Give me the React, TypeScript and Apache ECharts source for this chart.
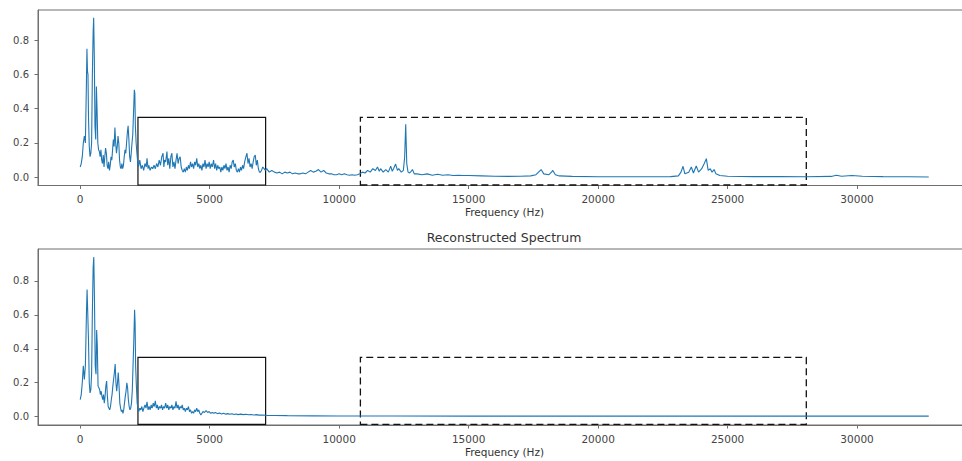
import React, { useEffect, useRef } from "react";
import * as echarts from "echarts";

// Original spectrum: [frequency (Hz), magnitude]
const originalSpectrum: number[][] = [
  [0, 0.06], [40, 0.08], [80, 0.12], [120, 0.2], [160, 0.24], [200, 0.2], [240, 0.55], [260, 0.75], [280, 0.62],
  [300, 0.6], [320, 0.35], [350, 0.18], [380, 0.12], [410, 0.14], [440, 0.2], [470, 0.6], [500, 0.85], [520, 0.93],
  [545, 0.7], [570, 0.3], [600, 0.22], [625, 0.53], [650, 0.4], [680, 0.2], [710, 0.16], [740, 0.15], [770, 0.12],
  [800, 0.16], [830, 0.1], [860, 0.08], [890, 0.13], [920, 0.06], [950, 0.12], [980, 0.17], [1010, 0.14], [1040, 0.07],
  [1070, 0.05], [1100, 0.09], [1130, 0.04], [1160, 0.07], [1190, 0.12], [1220, 0.1], [1250, 0.16], [1280, 0.22],
  [1310, 0.18], [1340, 0.29], [1370, 0.2], [1400, 0.14], [1430, 0.18], [1460, 0.24], [1490, 0.2], [1520, 0.1],
  [1550, 0.06], [1580, 0.05], [1610, 0.08], [1640, 0.05], [1670, 0.07], [1700, 0.12], [1730, 0.16], [1760, 0.14],
  [1790, 0.2], [1820, 0.26], [1850, 0.3], [1880, 0.22], [1910, 0.12], [1940, 0.09], [1970, 0.14], [2000, 0.2],
  [2030, 0.25], [2060, 0.38], [2090, 0.51], [2110, 0.49], [2130, 0.3], [2160, 0.2], [2190, 0.14], [2220, 0.09],
  [2250, 0.06], [2300, 0.1], [2350, 0.05], [2400, 0.07], [2450, 0.04], [2500, 0.08], [2550, 0.06], [2580, 0.11],
  [2620, 0.05], [2650, 0.07], [2700, 0.04], [2750, 0.06], [2800, 0.05], [2850, 0.07], [2900, 0.05], [2950, 0.08],
  [3000, 0.06], [3050, 0.1], [3100, 0.07], [3150, 0.12], [3200, 0.14], [3230, 0.06], [3260, 0.1], [3300, 0.09],
  [3350, 0.15], [3380, 0.07], [3420, 0.11], [3460, 0.05], [3500, 0.12], [3540, 0.14], [3580, 0.06], [3620, 0.09],
  [3660, 0.05], [3700, 0.1], [3740, 0.14], [3780, 0.08], [3820, 0.11], [3860, 0.12], [3900, 0.06], [3940, 0.04],
  [3980, 0.03], [4020, 0.05], [4060, 0.03], [4100, 0.06], [4140, 0.04], [4180, 0.07], [4220, 0.05], [4260, 0.09],
  [4300, 0.06], [4340, 0.08], [4380, 0.05], [4420, 0.09], [4460, 0.07], [4500, 0.11], [4540, 0.06], [4580, 0.08],
  [4620, 0.05], [4660, 0.07], [4700, 0.04], [4740, 0.08], [4780, 0.06], [4820, 0.1], [4860, 0.05], [4900, 0.08],
  [4940, 0.06], [4980, 0.09], [5020, 0.05], [5060, 0.08], [5100, 0.06], [5150, 0.1], [5190, 0.05], [5230, 0.08],
  [5270, 0.04], [5310, 0.07], [5350, 0.05], [5390, 0.06], [5430, 0.03], [5470, 0.06], [5510, 0.04], [5550, 0.07],
  [5590, 0.05], [5630, 0.08], [5670, 0.04], [5710, 0.06], [5750, 0.03], [5790, 0.07], [5830, 0.05], [5870, 0.09],
  [5910, 0.1], [5950, 0.06], [5990, 0.08], [6030, 0.04], [6070, 0.03], [6110, 0.05], [6150, 0.03], [6190, 0.06],
  [6230, 0.04], [6270, 0.07], [6310, 0.05], [6350, 0.09], [6400, 0.12], [6440, 0.14], [6480, 0.08], [6520, 0.11],
  [6560, 0.06], [6600, 0.08], [6640, 0.05], [6680, 0.09], [6720, 0.12], [6760, 0.13], [6800, 0.07], [6840, 0.1],
  [6880, 0.05], [6920, 0.03], [6960, 0.03], [7000, 0.04], [7050, 0.06], [7100, 0.05], [7150, 0.04],
  [7200, 0.05], [7300, 0.03], [7400, 0.04], [7500, 0.03], [7600, 0.025], [7700, 0.03], [7800, 0.02], [7900, 0.03],
  [8000, 0.025], [8100, 0.03], [8200, 0.02], [8300, 0.025], [8400, 0.02], [8500, 0.02], [8600, 0.025], [8700, 0.02],
  [8800, 0.03], [8900, 0.04], [9000, 0.03], [9100, 0.035], [9200, 0.045], [9300, 0.03], [9400, 0.04], [9500, 0.025],
  [9600, 0.02], [9700, 0.02], [9800, 0.015], [9900, 0.015], [10000, 0.02], [10100, 0.015], [10200, 0.02],
  [10300, 0.015], [10400, 0.012], [10500, 0.015], [10600, 0.012], [10700, 0.015], [10800, 0.02],
  [10900, 0.03], [11000, 0.025], [11100, 0.04], [11200, 0.03], [11300, 0.05], [11400, 0.04], [11480, 0.06],
  [11550, 0.035], [11600, 0.05], [11700, 0.03], [11800, 0.045], [11900, 0.03], [11990, 0.065], [12050, 0.035],
  [12100, 0.05], [12180, 0.077], [12250, 0.04], [12300, 0.05], [12400, 0.03], [12480, 0.04], [12530, 0.12],
  [12570, 0.31], [12610, 0.08], [12660, 0.03], [12720, 0.025], [12780, 0.035], [12830, 0.045], [12900, 0.02],
  [13000, 0.02], [13200, 0.015], [13400, 0.02], [13600, 0.012], [13800, 0.018], [14000, 0.012], [14200, 0.015],
  [14400, 0.01], [14600, 0.012], [14800, 0.01], [15000, 0.01], [15500, 0.008], [16000, 0.006], [16500, 0.005],
  [17000, 0.006], [17400, 0.008], [17600, 0.015], [17700, 0.03], [17800, 0.045], [17900, 0.02], [18100, 0.015],
  [18200, 0.03], [18250, 0.04], [18350, 0.015], [18500, 0.008], [19000, 0.005], [20000, 0.003], [21000, 0.003],
  [22000, 0.003], [22800, 0.004], [23100, 0.008], [23200, 0.03], [23280, 0.064], [23350, 0.02], [23500, 0.03],
  [23600, 0.06], [23680, 0.025], [23790, 0.066], [23880, 0.03], [24000, 0.05], [24100, 0.08], [24180, 0.109],
  [24250, 0.04], [24330, 0.05], [24400, 0.03], [24480, 0.045], [24550, 0.02], [24700, 0.01], [25000, 0.006],
  [26000, 0.004], [27000, 0.004], [28000, 0.003], [29000, 0.005], [29200, 0.012], [29400, 0.006], [29800, 0.01],
  [30200, 0.006], [31000, 0.004], [32000, 0.003], [32768, 0.002],
];

// Reconstructed spectrum: [frequency (Hz), magnitude]
const reconstructedSpectrum: number[][] = [
  [0, 0.1], [40, 0.13], [80, 0.2], [120, 0.3], [160, 0.22], [200, 0.3], [240, 0.6], [265, 0.75], [290, 0.62],
  [320, 0.45], [350, 0.2], [380, 0.14], [410, 0.16], [440, 0.25], [470, 0.62], [500, 0.88], [525, 0.94], [550, 0.7],
  [580, 0.3], [610, 0.25], [635, 0.51], [660, 0.42], [690, 0.18], [720, 0.17], [750, 0.16], [780, 0.13], [810, 0.15],
  [840, 0.12], [870, 0.1], [900, 0.13], [930, 0.08], [960, 0.12], [990, 0.18], [1020, 0.21], [1050, 0.12],
  [1080, 0.06], [1110, 0.05], [1140, 0.04], [1170, 0.06], [1200, 0.1], [1230, 0.13], [1260, 0.18], [1290, 0.22],
  [1320, 0.26], [1350, 0.31], [1380, 0.2], [1410, 0.15], [1440, 0.2], [1470, 0.26], [1500, 0.18], [1530, 0.08],
  [1560, 0.05], [1590, 0.03], [1620, 0.04], [1650, 0.02], [1680, 0.04], [1710, 0.08], [1740, 0.12], [1770, 0.15],
  [1800, 0.2], [1830, 0.17], [1860, 0.1], [1890, 0.06], [1920, 0.04], [1950, 0.05], [1980, 0.08], [2010, 0.15],
  [2040, 0.3], [2070, 0.45], [2100, 0.63], [2120, 0.55], [2140, 0.3], [2170, 0.18], [2200, 0.08], [2230, 0.05],
  [2260, 0.03], [2300, 0.05], [2340, 0.04], [2380, 0.06], [2420, 0.03], [2460, 0.05], [2500, 0.07], [2540, 0.05],
  [2580, 0.088], [2620, 0.04], [2660, 0.06], [2700, 0.04], [2740, 0.07], [2780, 0.05], [2820, 0.08], [2860, 0.06],
  [2900, 0.094], [2940, 0.05], [2980, 0.07], [3020, 0.04], [3060, 0.06], [3100, 0.05], [3140, 0.07], [3180, 0.04],
  [3220, 0.06], [3260, 0.05], [3300, 0.08], [3340, 0.05], [3380, 0.07], [3420, 0.04], [3460, 0.06], [3500, 0.05],
  [3540, 0.07], [3580, 0.04], [3620, 0.06], [3660, 0.05], [3700, 0.09], [3740, 0.05], [3780, 0.07], [3820, 0.04],
  [3860, 0.06], [3900, 0.05], [3940, 0.07], [3980, 0.04], [4020, 0.05], [4060, 0.03], [4100, 0.05], [4140, 0.04],
  [4180, 0.06], [4220, 0.03], [4260, 0.04], [4300, 0.02], [4340, 0.03], [4380, 0.02], [4420, 0.04], [4460, 0.03],
  [4500, 0.05], [4540, 0.03], [4580, 0.04], [4620, 0.02], [4660, 0.01], [4700, 0.02], [4740, 0.03], [4800, 0.025],
  [4860, 0.035], [4920, 0.025], [4980, 0.03], [5040, 0.02], [5100, 0.025], [5160, 0.02], [5220, 0.025],
  [5300, 0.018], [5380, 0.022], [5460, 0.016], [5540, 0.02], [5620, 0.015], [5700, 0.018], [5780, 0.014],
  [5860, 0.017], [5940, 0.013], [6020, 0.016], [6100, 0.012], [6200, 0.015], [6300, 0.012], [6400, 0.014],
  [6500, 0.011], [6600, 0.013], [6700, 0.01], [6800, 0.012], [6900, 0.009], [7000, 0.01], [7200, 0.008],
  [7500, 0.007], [8000, 0.006], [9000, 0.005], [10000, 0.004], [12000, 0.004], [15000, 0.003], [20000, 0.003],
  [25000, 0.003], [30000, 0.003], [32768, 0.003],
];

const xTicks = [0, 5000, 10000, 15000, 20000, 25000, 30000];
const yTicks = [0, 0.2, 0.4, 0.6, 0.8];
const xAxisTitle = "Frequency (Hz)";
const bottomTitle = "Reconstructed Spectrum";

// Highlight boxes in data coordinates: [x0, y0, x1, y1]
const solidBox = [2230, -0.045, 7160, 0.35];
const dashedBox = [10820, -0.045, 28040, 0.35];

const X_MIN = -1630;
const X_MAX = 34400;

export default function App() {
  const ref = useRef<HTMLDivElement>(null);

  useEffect(() => {
    if (!ref.current) return;
    document.body.style.overflow = "hidden";
    const chart = echarts.init(ref.current, undefined, { renderer: "svg" });
    const font = "DejaVu Sans";
    const axisColor = "#6f6f6f";

    const makeX = (gridIndex: number) => ({
      type: "value" as const,
      gridIndex,
      min: X_MIN,
      max: X_MAX,
      name: xAxisTitle,
      nameLocation: "middle" as const,
      nameGap: 21,
      nameTextStyle: { fontFamily: font, fontSize: 10.5, color: "#333" },
      axisLine: { show: true, onZero: false, lineStyle: { color: axisColor, width: 1 } },
      axisTick: { show: true, inside: false, length: 3.5, customValues: xTicks, lineStyle: { color: axisColor } },
      axisLabel: {
        customValues: xTicks,
        margin: 8,
        fontFamily: font,
        fontSize: 10.5,
        color: "#444",
        formatter: (v: number) => String(Math.round(v)),
      },
      splitLine: { show: false },
    });

    const makeY = (gridIndex: number, min: number, max: number) => ({
      type: "value" as const,
      gridIndex,
      min,
      max,
      axisLine: { show: true, onZero: false, lineStyle: { color: axisColor, width: 1 } },
      axisTick: { show: true, inside: false, length: 3.5, customValues: yTicks, lineStyle: { color: axisColor } },
      axisLabel: {
        customValues: yTicks,
        margin: 9,
        fontFamily: font,
        fontSize: 10,
        color: "#444",
        formatter: (v: number) => v.toFixed(1),
      },
      splitLine: { show: false },
    });

    const boxArea = (b: number[], dashed: boolean) => ({
      silent: true,
      label: { show: false },
      itemStyle: {
        color: "rgba(0,0,0,0)",
        borderColor: "#111",
        borderWidth: dashed ? 1.3 : 1.2,
        borderType: dashed ? [7, 4] : "solid",
      },
      data: [[{ coord: [b[0], b[1]] }, { coord: [b[2], b[3]] }]],
    });

    const lineSeries = (data: number[][], idx: number) => ({
      type: "line" as const,
      xAxisIndex: idx,
      yAxisIndex: idx,
      data,
      showSymbol: false,
      symbol: "none",
      lineStyle: { color: "#1f77b4", width: 1.1 },
      z: 3,
    });

    const boxSeries = (idx: number, area: any) => ({
      type: "line" as const,
      xAxisIndex: idx,
      yAxisIndex: idx,
      data: [],
      showSymbol: false,
      markArea: area,
      z: 4,
    });

    chart.setOption({
      animation: false,
      backgroundColor: "#ffffff",
      grid: [
        { left: 38, top: 10, width: 933, height: 175.5, show: true, borderColor: axisColor, borderWidth: 1, backgroundColor: "transparent" },
        { left: 38, top: 249, width: 933, height: 176, show: true, borderColor: axisColor, borderWidth: 1, backgroundColor: "transparent" },
      ],
      xAxis: [makeX(0), makeX(1)],
      yAxis: [makeY(0, -0.048, 0.976), makeY(1, -0.049, 0.988)],
      graphic: [
        {
          type: "text",
          x: 504,
          y: 237,
          style: {
            text: bottomTitle,
            fontFamily: font,
            fontSize: 12.5,
            fill: "#333",
            textAlign: "center",
            textVerticalAlign: "middle",
          },
        },
      ],
      series: [
        lineSeries(originalSpectrum, 0),
        boxSeries(0, boxArea(solidBox, false)),
        boxSeries(0, boxArea(dashedBox, true)),
        lineSeries(reconstructedSpectrum, 1),
        boxSeries(1, boxArea(solidBox, false)),
        boxSeries(1, boxArea(dashedBox, true)),
      ],
    });

    return () => chart.dispose();
  }, []);

  return (
    <div
      ref={ref}
      style={{ position: "fixed", left: 0, top: 0, width: 980, height: 461, background: "#fff" }}
    />
  );
}
